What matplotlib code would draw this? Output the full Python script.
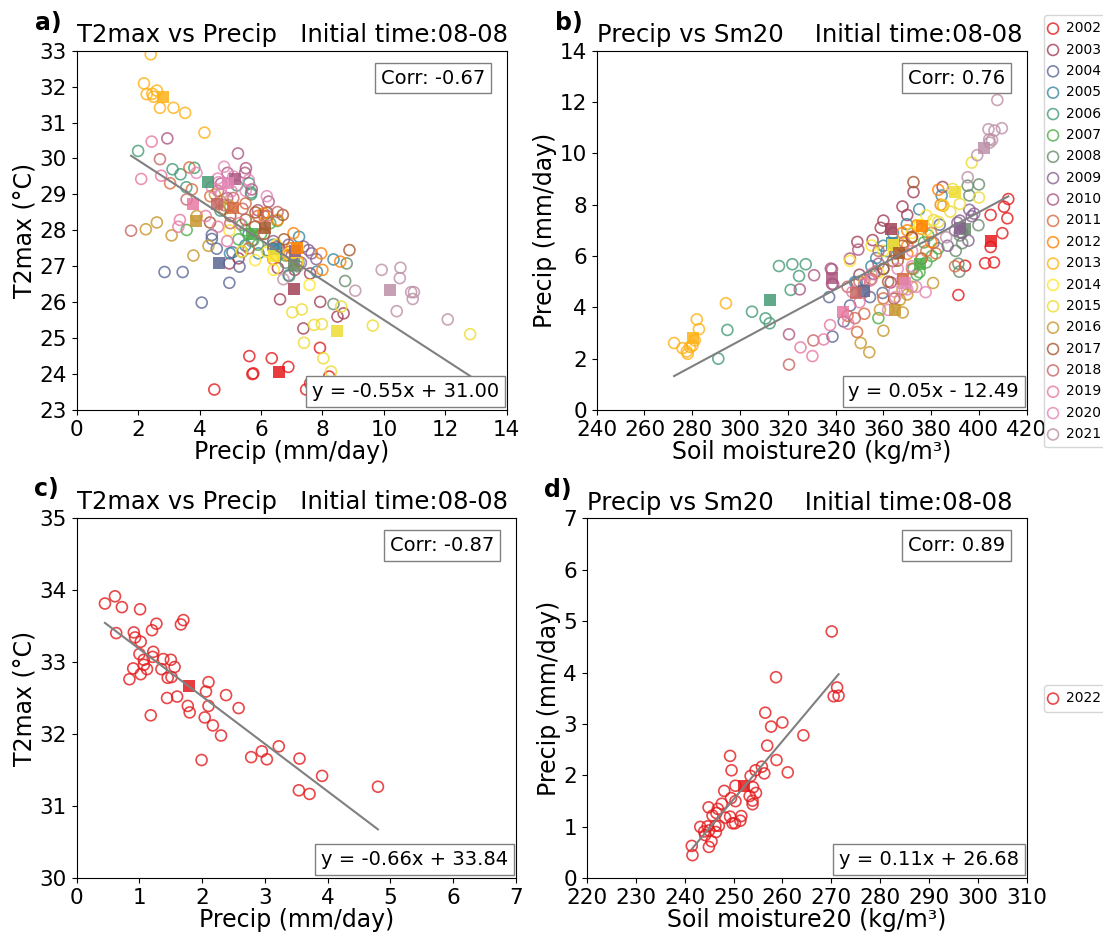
import numpy as np
import matplotlib
matplotlib.use("Agg")
import matplotlib.pyplot as plt
from matplotlib.colors import LinearSegmentedColormap
from matplotlib.ticker import MultipleLocator

# ---- data: 10 ensemble days per year (2002-2021), same order in each list ----
years = [str(y) for y in range(2002, 2022)]

precip_hist = [
    [4.48, 5.62, 5.72, 5.75, 6.35, 6.89, 7.47, 7.60, 7.92, 8.22],      # 2002
    [4.97, 5.27, 6.62, 7.38, 7.93, 8.49, 8.69, 7.10, 7.60, 6.55],      # 2003
    [2.86, 3.45, 4.07, 4.40, 4.40, 4.56, 4.97, 5.07, 5.30, 7.22],      # 2004
    [8.36, 7.82, 7.24, 5.92, 6.19, 4.99, 6.40, 6.90, 5.60, 5.49],      # 2005
    [2.00, 3.12, 3.38, 3.57, 3.83, 4.68, 5.22, 5.61, 5.68, 5.68],      # 2006
    [3.58, 5.27, 5.37, 5.75, 5.90, 6.30, 6.00, 5.50, 6.80, 6.53],      # 2007
    [8.36, 8.74, 8.79, 6.92, 6.20, 5.70, 6.50, 6.80, 7.20, 5.39],      # 2008
    [7.38, 7.55, 7.65, 6.90, 6.60, 7.80, 6.40, 7.00, 7.30, 6.52],      # 2009
    [5.51, 5.48, 4.90, 5.25, 4.70, 5.90, 2.95, 5.70, 6.25, 4.91],      # 2010
    [3.04, 3.67, 3.75, 4.35, 5.50, 5.90, 6.10, 6.90, 6.20, 5.60],      # 2011
    [7.06, 7.20, 8.58, 8.00, 6.55, 6.08, 7.96, 7.00, 6.90, 6.40],      # 2012
    [2.19, 2.28, 2.41, 2.46, 2.50, 2.61, 2.71, 3.15, 3.53, 4.16],      # 2013
    [4.97, 5.37, 5.81, 6.41, 7.58, 6.20, 6.50, 6.90, 7.20, 7.20],      # 2014
    [7.02, 7.33, 7.73, 7.98, 7.40, 8.03, 8.28, 8.61, 9.64, 12.81],     # 2015
    [2.25, 2.61, 3.09, 3.80, 3.91, 4.29, 4.50, 4.70, 4.80, 4.95],      # 2016
    [6.71, 6.75, 5.82, 5.50, 5.00, 8.88, 6.40, 5.80, 6.10, 4.34],      # 2017
    [1.77, 2.71, 3.58, 4.60, 5.10, 5.40, 6.20, 5.00, 4.80, 6.54],      # 2018
    [2.10, 2.44, 2.75, 3.36, 3.31, 4.20, 4.60, 4.90, 5.30, 5.04],      # 2019
    [4.80, 6.19, 4.59, 4.40, 5.10, 5.50, 3.90, 4.70, 5.60, 4.62],      # 2020
    [9.93, 10.54, 10.52, 10.89, 10.98, 10.94, 10.42, 12.08, 9.07, 6.73],  # 2021
]

t2max_hist = [
    [23.57, 24.50, 24.00, 24.02, 24.44, 24.20, 23.57, 23.74, 24.73, 23.93],
    [27.08, 27.22, 26.08, 25.27, 26.01, 25.60, 25.69, 26.90, 26.80, 26.95],
    [26.84, 26.84, 25.99, 27.87, 27.76, 27.49, 26.54, 27.39, 26.99, 27.09],
    [27.19, 26.85, 27.82, 27.36, 28.49, 27.36, 27.60, 26.75, 27.90, 27.58],
    [30.21, 29.70, 29.56, 29.20, 29.74, 28.55, 29.25, 29.31, 29.05, 29.00],
    [28.01, 27.75, 28.15, 27.73, 27.60, 28.20, 27.90, 28.00, 27.30, 28.26],
    [25.95, 26.59, 27.08, 26.73, 27.45, 27.70, 27.30, 27.10, 27.00, 27.40],
    [27.55, 27.45, 27.36, 27.60, 27.50, 27.20, 27.70, 27.30, 27.10, 27.54],
    [29.73, 29.60, 28.90, 30.14, 29.30, 28.56, 30.56, 29.14, 28.80, 29.60],
    [29.31, 29.75, 29.14, 28.95, 28.75, 28.40, 28.40, 27.40, 28.50, 27.50],
    [27.92, 27.15, 27.13, 26.90, 28.29, 28.47, 27.36, 27.50, 27.30, 27.20],
    [32.09, 31.79, 32.90, 31.80, 31.72, 31.89, 31.41, 31.41, 31.27, 30.72],
    [28.00, 27.41, 27.17, 26.90, 26.48, 27.40, 27.60, 27.35, 27.50, 27.10],
    [25.72, 25.80, 25.37, 25.39, 24.87, 24.44, 24.07, 25.88, 25.35, 25.11],
    [28.03, 28.22, 27.86, 27.30, 28.40, 27.57, 29.00, 28.80, 28.60, 28.70],
    [28.43, 27.75, 28.50, 28.30, 28.40, 27.45, 27.50, 28.10, 27.90, 28.22],
    [27.99, 29.98, 28.86, 29.10, 28.90, 28.60, 28.40, 28.20, 28.70, 28.51],
    [29.43, 30.47, 29.52, 28.29, 28.10, 28.40, 28.10, 27.70, 28.20, 29.09],
    [29.77, 28.95, 29.44, 29.20, 29.50, 29.10, 29.60, 29.00, 29.40, 29.34],
    [26.90, 26.96, 26.67, 26.28, 26.28, 26.09, 25.75, 25.52, 26.32, 26.64],
]

sm20_hist = [
    [391.4, 394.2, 402.6, 406.3, 404.9, 409.8, 411.9, 404.9, 410.5, 412.3],
    [363.1, 350.0, 355.5, 360.0, 368.0, 372.6, 384.8, 358.9, 370.0, 349.1],
    [338.7, 343.4, 346.1, 337.3, 354.4, 359.7, 348.8, 352.0, 356.0, 383.6],
    [384.4, 375.0, 369.8, 357.0, 361.4, 348.1, 360.0, 364.0, 355.0, 360.0],
    [290.9, 294.7, 312.4, 310.7, 305.0, 321.2, 324.7, 316.3, 321.9, 327.5],
    [357.9, 374.0, 375.1, 378.0, 376.0, 383.0, 380.3, 372.6, 378.8, 377.0],
    [396.0, 395.3, 400.0, 392.0, 390.3, 391.4, 393.0, 392.0, 399.8, 391.8],
    [392.0, 397.0, 398.0, 393.0, 395.6, 396.0, 386.9, 390.0, 391.0, 381.0],
    [338.0, 338.5, 339.0, 331.0, 325.0, 346.0, 320.5, 358.0, 349.5, 338.5],
    [349.0, 345.0, 352.0, 360.0, 372.0, 376.0, 382.0, 380.0, 378.0, 390.0],
    [376.0, 374.0, 383.0, 384.0, 380.0, 370.0, 385.0, 370.0, 368.0, 370.0],
    [278.1, 277.7, 275.9, 279.0, 280.0, 272.4, 281.0, 282.8, 281.9, 294.1],
    [352.0, 358.0, 346.0, 355.0, 378.0, 360.0, 368.0, 372.0, 375.0, 375.0],
    [378.0, 383.0, 388.0, 385.0, 381.0, 392.0, 400.0, 389.0, 397.0, 407.4],
    [354.1, 350.5, 360.0, 368.1, 358.6, 366.9, 370.0, 368.0, 372.0, 380.8],
    [371.9, 372.0, 366.0, 360.0, 362.0, 372.6, 368.0, 364.0, 365.0, 364.5],
    [320.5, 330.7, 348.1, 352.0, 355.0, 357.0, 358.0, 350.0, 345.0, 368.7],
    [330.3, 325.3, 335.0, 345.3, 337.7, 350.0, 347.0, 352.0, 355.0, 354.4],
    [373.7, 372.0, 377.7, 365.0, 368.0, 366.0, 362.0, 370.0, 372.0, 364.6],
    [399.3, 404.3, 405.5, 406.5, 409.6, 404.0, 404.5, 407.7, 395.3, 386.3],
]

# ---- 2022 ----
precip_22 = [0.45, 0.61, 0.63, 0.72, 0.84, 0.90, 0.91, 0.93, 1.00, 1.01,
             1.02, 1.02, 1.07, 1.07, 1.12, 1.18, 1.20, 1.21, 1.22, 1.27,
             1.35, 1.38, 1.44, 1.45, 1.50, 1.51, 1.56, 1.60, 1.66, 1.70,
             1.77, 1.80, 1.99, 2.04, 2.06, 2.10, 2.10, 2.17, 2.30, 2.38,
             2.58, 2.78, 2.95, 3.03, 3.22, 3.54, 3.55, 3.71, 3.91, 4.80]
t2max_22 = [33.81, 33.91, 33.40, 33.76, 32.76, 32.91, 33.41, 33.34, 33.11, 33.73,
            33.28, 32.83, 33.03, 32.96, 32.90, 32.26, 33.44, 33.07, 33.14, 33.53,
            32.90, 33.04, 32.50, 32.78, 33.03, 32.79, 32.93, 32.52, 33.52, 33.58,
            32.39, 32.30, 31.64, 32.23, 32.59, 32.72, 32.39, 32.12, 31.98, 32.54,
            32.36, 31.68, 31.76, 31.65, 31.83, 31.22, 31.66, 31.17, 31.42, 31.27]
sm20_22 = [241.6, 244.96, 241.46, 245.5, 244.2, 246.4, 244.0, 245.0, 243.2, 244.7,
           246.3, 247.0, 250.3, 249.8, 251.4, 248.3, 249.3, 251.6, 245.7, 246.5,
           246.8, 244.9, 253.9, 247.6, 250.4, 253.9, 249.5, 253.3, 254.6, 248.1,
           254.0, 250.4, 253.5, 256.3, 261.1, 249.6, 254.5, 255.8, 258.8, 249.3,
           256.9, 264.3, 257.7, 260.0, 256.5, 270.5, 271.5, 271.2, 258.7, 270.1]

# colours: Set1 stretched smoothly over 20 years
cmap = LinearSegmentedColormap.from_list("set1_smooth", plt.cm.Set1.colors)
year_colors = [cmap(i / 20) for i in range(20)]
red_22 = cmap(0.0)

W, H = 1103, 933
fig = plt.figure(figsize=(W / 100, H / 100), dpi=100)


def px_box(left, right, top, bottom):
    return [left / W, 1 - bottom / H, (right - left) / W, (bottom - top) / H]


def draw_panel(ax, xs_list, ys_list, colors, labels, corr_txt, eq_txt):
    for xs, ys, c, lab in zip(xs_list, ys_list, colors, labels):
        ax.scatter(xs, ys, s=62, facecolors="none", edgecolors=[c],
                   linewidths=1.2, alpha=0.8, label=lab, zorder=2)
        ax.scatter(np.mean(xs), np.mean(ys), marker="s", s=85, color=c,
                   alpha=0.85, zorder=3, linewidths=0)
    allx = np.concatenate([np.asarray(v) for v in xs_list])
    ally = np.concatenate([np.asarray(v) for v in ys_list])
    k, b = np.polyfit(allx, ally, 1)
    xx = np.array([allx.min(), allx.max()])
    ax.plot(xx, k * xx + b, color="gray", lw=1.5, zorder=4)
    box = dict(boxstyle="square,pad=0.3", facecolor="white", edgecolor="gray")
    ax.text(0.95, 0.95, corr_txt, transform=ax.transAxes, ha="right", va="top",
            fontsize=14, bbox=box, zorder=5)
    ax.text(0.982, 0.025, eq_txt, transform=ax.transAxes, ha="right", va="bottom",
            fontsize=14, bbox=box, zorder=5)
    ax.tick_params(labelsize=15.5)


ax_a = fig.add_axes(px_box(76.7, 506.7, 50.7, 410))
ax_b = fig.add_axes(px_box(596.7, 1026.7, 50.7, 410))
ax_c = fig.add_axes(px_box(76.7, 516, 517.7, 878.3))
ax_d = fig.add_axes(px_box(586.9, 1026.7, 518.3, 878.3))

draw_panel(ax_a, precip_hist, t2max_hist, year_colors, years,
           "Corr: -0.67", "y = -0.55x + 31.00")
draw_panel(ax_b, sm20_hist, precip_hist, year_colors, years,
           "Corr: 0.76", "y = 0.05x - 12.49")
draw_panel(ax_c, [precip_22], [t2max_22], [red_22], ["2022"],
           "Corr: -0.87", "y = -0.66x + 33.84")
draw_panel(ax_d, [sm20_22], [precip_22], [red_22], ["2022"],
           "Corr: 0.89", "y = 0.11x + 26.68")

ax_a.set_xlim(0, 14); ax_a.set_ylim(23, 33)
ax_a.xaxis.set_major_locator(MultipleLocator(2))
ax_a.yaxis.set_major_locator(MultipleLocator(1))
ax_b.set_xlim(240, 420); ax_b.set_ylim(0, 14)
ax_b.xaxis.set_major_locator(MultipleLocator(20))
ax_b.yaxis.set_major_locator(MultipleLocator(2))
ax_c.set_xlim(0, 7); ax_c.set_ylim(30, 35)
ax_c.xaxis.set_major_locator(MultipleLocator(1))
ax_c.yaxis.set_major_locator(MultipleLocator(1))
ax_d.set_xlim(220, 310); ax_d.set_ylim(0, 7)
ax_d.xaxis.set_major_locator(MultipleLocator(10))
ax_d.yaxis.set_major_locator(MultipleLocator(1))

for ax in (ax_a, ax_c):
    ax.set_xlabel("Precip (mm/day)", fontsize=17, labelpad=0)
    ax.set_ylabel("T2max (°C)", fontsize=17, labelpad=2)
    ax.set_title("T2max vs Precip   Initial time:08-08", loc="left", fontsize=17.5)
for ax in (ax_b, ax_d):
    ax.set_xlabel("Soil moisture20 (kg/m³)", fontsize=17, labelpad=0)
    ax.set_ylabel("Precip (mm/day)", fontsize=17, labelpad=2)
    ax.set_title("Precip vs Sm20    Initial time:08-08", loc="left", fontsize=17.5)

for ax, lab in zip((ax_a, ax_b, ax_c, ax_d), ("a)", "b)", "c)", "d)")):
    ax.text(-0.097, 1.045, lab, transform=ax.transAxes, fontsize=17,
            fontweight="bold", ha="left", va="bottom")

leg_kw = dict(loc="upper left", fontsize=10, borderaxespad=0, borderpad=0.45,
              labelspacing=0.53, handlelength=0.4, handletextpad=0.7)
fig.legend(*ax_b.get_legend_handles_labels(),
           bbox_to_anchor=(1044 / W, 1 - 15 / H), **leg_kw)
fig.legend(*ax_d.get_legend_handles_labels(),
           bbox_to_anchor=(1044 / W, 1 - 685 / H), **leg_kw)

fig.savefig("out.png", dpi=100)
